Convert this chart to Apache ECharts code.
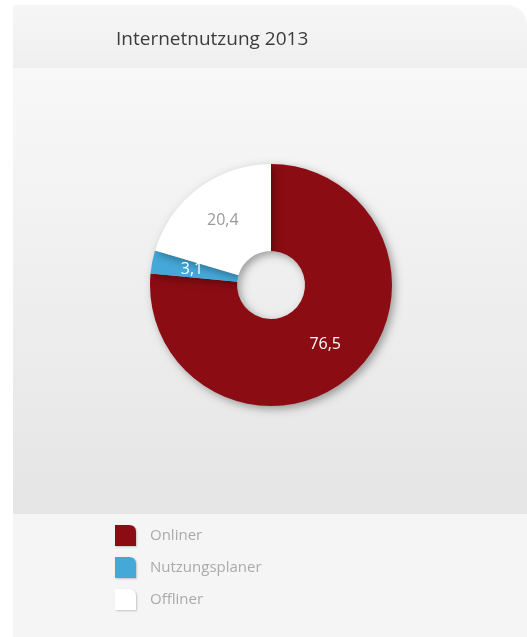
<!DOCTYPE html>
<html>
<head>
<meta charset="utf-8">
<script src="https://cdn.jsdelivr.net/npm/echarts@6/dist/echarts.min.js"></script>
<style>
html,body{margin:0;padding:0;background:#fff;}
#chart{width:527px;height:637px;}
</style>
</head>
<body>
<div id="chart"></div>
<script>
var titleText = 'Internetnutzung 2013';
var categories = ['Onliner', 'Nutzungsplaner', 'Offliner'];
var values = [76.5, 3.1, 20.4];
var colors = ['#8b0c12', '#44a9d9', '#ffffff'];
var labelColors = ['#ffffff', '#ffffff', '#9a9a9a'];

var chart = echarts.init(document.getElementById('chart'));
var W = 527, H = 637;
var iconPath = 'path://M0,0 L14,0 Q21,0 21,7 L21,21 L0,21 Z';

var option = {
  backgroundColor: '#ffffff',
  animation: false,
  title: {
    text: titleText,
    left: 116,
    top: 30,
    padding: 0,
    textStyle: { fontFamily: 'Open Sans', fontSize: 19, fontWeight: 'normal', color: '#3c3c3c' }
  },
  graphic: [
    { type: 'rect', z: -10, shape: { x: 13, y: 5, width: W - 13, height: 70, r: [0, 20, 0, 0] },
      style: { fill: new echarts.graphic.LinearGradient(0, 0, 0, 1, [{offset: 0, color: '#f6f6f6'}, {offset: 1, color: '#eeeeee'}]) } },
    { type: 'rect', z: -9, shape: { x: 13, y: 68, width: W - 13, height: 446 },
      style: { fill: new echarts.graphic.LinearGradient(0, 0, 0, 1, [{offset: 0, color: '#f8f8f8'}, {offset: 1, color: '#e5e5e5'}]) } },
    { type: 'rect', z: -9, shape: { x: 13, y: 514, width: W - 13, height: H - 514 },
      style: { fill: '#f5f5f5' } }
  ],
  legend: {
    orient: 'vertical',
    left: 115,
    top: 525,
    padding: 0,
    itemWidth: 21,
    itemHeight: 21,
    itemGap: 11,
    icon: iconPath,
    data: categories,
    textStyle: { fontFamily: 'Open Sans', fontSize: 15, color: '#aaaaaa', padding: [0, 0, 0, 9] },
    itemStyle: { shadowBlur: 2, shadowColor: 'rgba(0,0,0,0.2)', shadowOffsetX: 1, shadowOffsetY: 1, borderWidth: 0 }
  },
  series: [{
    type: 'pie',
    center: [271, 285],
    radius: [34, 121],
    startAngle: 90,
    clockwise: true,
    silent: true,
    label: {
      show: true,
      position: 'inside',
      fontFamily: 'Open Sans',
      fontSize: 16,
      formatter: function (p) { return p.value.toFixed(1).replace('.', ','); }
    },
    labelLine: { show: false },
    itemStyle: { shadowBlur: 8, shadowColor: 'rgba(0,0,0,0.35)', shadowOffsetX: 3, shadowOffsetY: 3, borderWidth: 0 },
    data: categories.map(function (c, i) {
      return { name: c, value: values[i], itemStyle: { color: colors[i] }, label: { color: labelColors[i] } };
    })
  }]
};
chart.setOption(option);
</script>
</body>
</html>
